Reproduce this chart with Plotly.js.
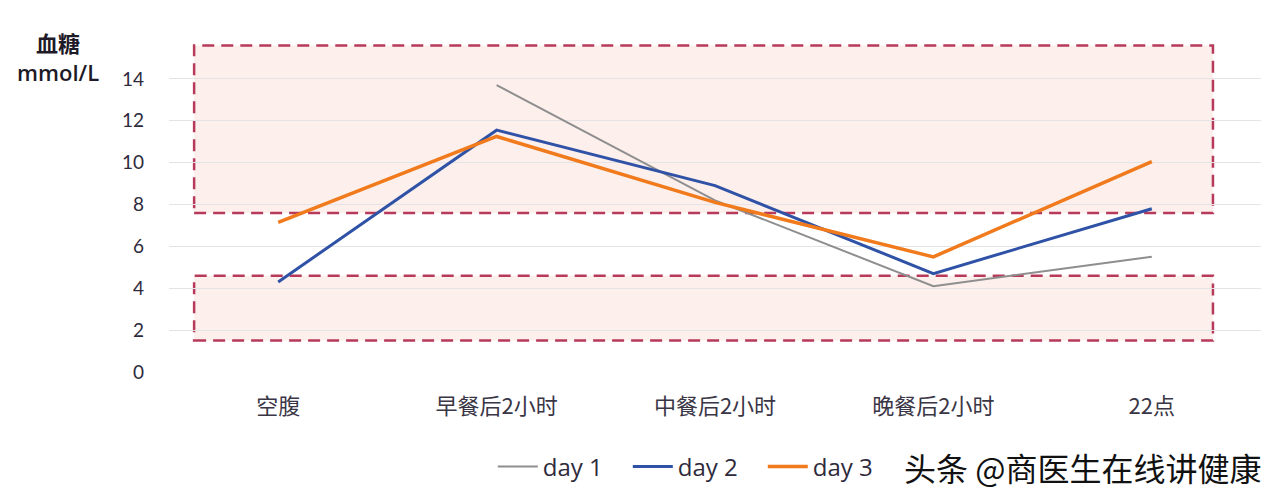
<!DOCTYPE html>
<html><head><meta charset="utf-8">
<script src="https://cdn.plot.ly/plotly-3.0.1.min.js"></script>
<style>html,body{margin:0;padding:0;background:#fff;}#chart{width:1280px;height:502px;}</style>
</head><body><div id="chart"></div>
<script>
const categories = ['空腹', '早餐后2小时', '中餐后2小时', '晚餐后2小时', '22点'];
const day1 = [null, 13.7, 8.2, 4.1, 5.5];
const day2 = [4.3, 11.55, 8.9, 4.7, 7.8];
const day3 = [7.15, 11.25, 8.1, 5.5, 10.05];
const seriesNames = ['day 1', 'day 2', 'day 3'];
const yTicks = [0, 2, 4, 6, 8, 10, 12, 14];
const highBand = [7.6, 15.6];
const lowBand = [1.5, 4.6];

const colors = ['#8e8e8e', '#2f52a6', '#f07a1c'];
const widths = [2, 3, 3.5];
const ys = [day1, day2, day3];
const traces = ys.map((y, i) => ({
  type: 'scatter', mode: 'lines', x: [0,1,2,3,4], y: y, name: seriesNames[i],
  connectgaps: false,
  line: {color: colors[i], width: widths[i]}
}));

function band(b) {
  return {type: 'rect', xref: 'x', yref: 'y', x0: -0.385, x1: 4.28, y0: b[0], y1: b[1],
    fillcolor: 'rgba(248,212,206,0.38)', layer: 'below',
    line: {color: '#b73a5a', width: 2.5, dash: '12px,7px'}};
}

const layout = {
  width: 1280, height: 502,
  margin: {l: 169, r: 19, t: 37, b: 130},
  paper_bgcolor: '#ffffff', plot_bgcolor: '#ffffff',
  font: {family: 'Lato, "Noto Sans CJK SC", sans-serif', color: '#2e2a3c'},
  showlegend: true,
  legend: {orientation: 'h', xref: 'container', yref: 'container', x: 0.385, y: 0.07,
    xanchor: 'left', yanchor: 'middle', font: {size: 24, family: '"Open Sans", sans-serif', color: '#2e2a3c'},
    itemwidth: 40, entrywidth: 80, entrywidthmode: 'pixels', bgcolor: 'rgba(0,0,0,0)'},
  xaxis: {range: [-0.5, 4.5], tickmode: 'array', tickvals: [0,1,2,3,4], ticktext: categories,
    showgrid: false, zeroline: false, showline: false, ticks: '',
    ticklabelstandoff: 19,
    tickfont: {size: 22, family: '"Noto Sans CJK SC", sans-serif', color: '#3a3646'}},
  yaxis: {range: [0, 16], tickmode: 'array', tickvals: yTicks, showgrid: true,
    gridcolor: '#e4e4e6', gridwidth: 1, zeroline: false, showline: false, ticks: '',
    ticklabelstandoff: 24,
    tickfont: {size: 19, color: '#2e2a3c'}},
  shapes: [band(highBand), band(lowBand)],
  annotations: [
    {text: '<b style="font-family:\'Noto Sans CJK SC\'">血糖</b><br>mmol/L', xref: 'paper', yref: 'paper',
      x: -0.102, y: 1.0, xanchor: 'center', yanchor: 'middle', align: 'center',
      yshift: -19, showarrow: false, font: {size: 22, weight: 600, family: '"Open Sans", sans-serif', color: '#1e1a28'}},
    {text: '头条 @商医生在线讲健康', xref: 'paper', yref: 'paper', x: 1.002, y: -0.284,
      xanchor: 'right', yanchor: 'middle', showarrow: false,
      font: {size: 32, family: '"Noto Sans CJK SC", sans-serif', color: '#111111'}}
  ]
};

Plotly.newPlot('chart', traces, layout, {displayModeBar: false, staticPlot: true});
</script>
</body></html>
